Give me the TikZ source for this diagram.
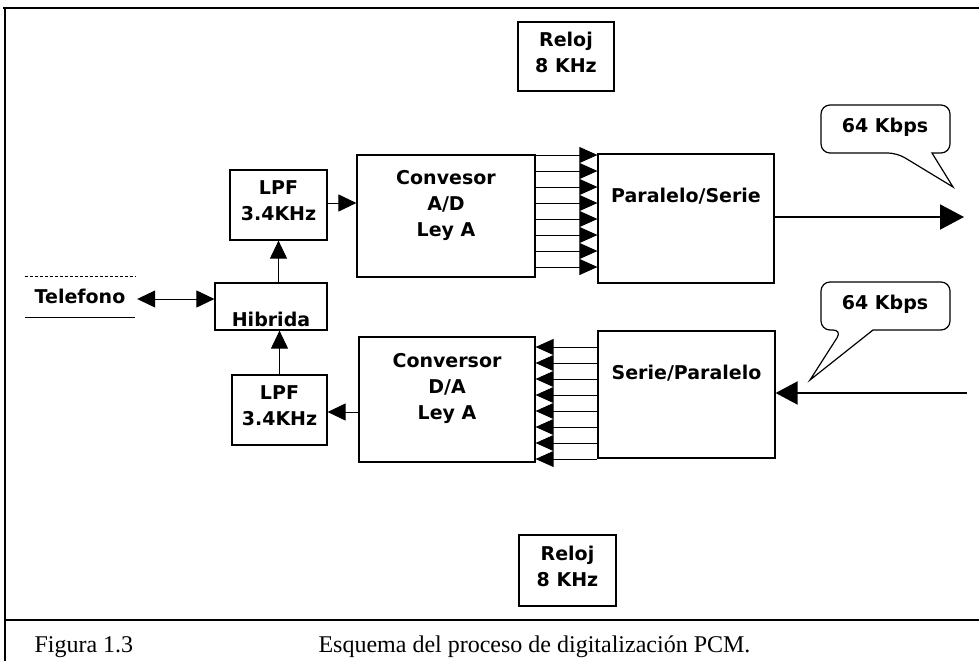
\documentclass[tikz,border=0pt]{standalone}
\usepackage{fontspec}
\setmainfont{Liberation Serif}
\setsansfont{DejaVu Sans}
\usepackage{tikz}
\usetikzlibrary{arrows.meta,positioning}

\begin{document}
\begin{tikzpicture}[
  x=1pt, y=-1pt,
  box/.style={draw,line width=1.2pt,inner sep=0pt},
  txt/.style={font=\sffamily\bfseries\fontsize{19}{26}\selectfont,align=center},
  sig/.style={-{Triangle[length=18pt,width=17pt]},line width=1pt},
  bus/.style={-{Triangle[length=18pt,width=16pt]},line width=0.8pt},
  link/.style={-{Triangle[length=24pt,width=25pt]},line width=2pt},
  captxt/.style={font=\fontsize{24}{28}\selectfont,anchor=base west}
]
\useasboundingbox (0,0) rectangle (979,661);

% Frame
\draw[line width=2pt] (3,8) -- (979,8);
\draw[line width=2pt] (5,8) -- (5,661);
\draw[line width=2pt] (5,620) -- (979,620);

% Clocks
\node[box, minimum width=96pt, minimum height=69pt] (reloj1) at (566,56.5) {};
\node[txt, yshift=4pt] (reloj1t) at (reloj1) {Reloj\\8 KHz};
\node[box, minimum width=97pt, minimum height=71pt] (reloj2) at (567.5,570.5) {};
\node[txt, yshift=4pt] (reloj2t) at (reloj2) {Reloj\\8 KHz};

% Phone side
\node[txt, minimum width=110pt, minimum height=41pt] (tel) at (80,296.5) {Telefono};
\draw[line width=0.6pt, densely dashed] (tel.north west) -- (tel.north east);
\draw[line width=1pt] (tel.south west) -- (tel.south east);
\node[box, minimum width=112pt, minimum height=47pt] (hib) at (271,306.5) {};
\node[txt, yshift=-13pt] (hibt) at (hib) {Hibrida};
\node[box, minimum width=97pt, minimum height=70pt] (lpf1) at (278.5,205) {};
\node[txt, yshift=4pt] (lpf1t) at (lpf1) {LPF\\3.4KHz};
\node[box, minimum width=95pt, minimum height=70pt] (lpf2) at (279.5,410) {};
\node[txt, yshift=4.5pt] (lpf2t) at (lpf2) {LPF\\3.4KHz};

% Converters
\node[box, minimum width=178pt, minimum height=122pt] (ad) at (446,216) {};
\node[txt, yshift=10.5pt] (adt) at (ad) {Convesor\\A/D\\Ley A};
\node[box, minimum width=176pt, minimum height=125pt] (da) at (447,399.5) {};
\node[txt, yshift=11pt] (dat) at (da) {Conversor\\D/A\\Ley A};
\node[box, minimum width=176pt, minimum height=129pt] (ps) at (686,218.5) {};
\node[txt, yshift=22.5pt] (pst) at (ps) {Paralelo/Serie};
\node[box, minimum width=177pt, minimum height=127pt] (sp) at (686.5,394.5) {};
\node[txt, yshift=21.5pt] (spt) at (sp) {Serie/Paralelo};

% Signal path
\draw[sig, {Triangle[length=18pt,width=17pt]}-{Triangle[length=18pt,width=17pt]}]
  ([xshift=2pt]tel.east |- 0,299) -- (hib.west |- 0,299);
\draw[sig] (lpf1.south |- hib.north) -- (lpf1.south);
\draw[sig] (lpf2.north) -- (lpf2.north |- hib.south);
\draw[sig] (lpf1.east |- 0,203) -- (ad.west |- 0,203);
\draw[sig] (da.west |- 0,412) -- (lpf2.east |- 0,412);

% Parallel buses
\foreach \y in {155,171,...,267}
  \draw[bus] (ad.east |- 0,\y) -- (ps.west |- 0,\y);
\foreach \y in {347,363,...,459}
  \draw[bus] (sp.west |- 0,\y) -- (da.east |- 0,\y);

% Line side
\coordinate (txout) at (964,217);
\coordinate (rxin) at (967,393);
\draw[link] (ps.east |- txout) -- (txout);
\draw[link, -{Triangle[length=22pt,width=23pt]}] (rxin) -- (sp.east |- rxin);

% Callouts
\node[txt] (kb1) at (885,127) {64 Kbps};
\draw[line width=1.2pt] (953,187) -- (932,153) [rounded corners=9pt] -- (950,153) -- (950,105)
  -- (821,105) -- (821,153) -- (897,153) [sharp corners] -- cycle;
\node[txt] (kb2) at (885,304) {64 Kbps};
\draw[line width=1.2pt] (810,380) -- (873,330) [rounded corners=9pt] -- (950,330) -- (950,282)
  -- (821,282) -- (821,330) -- (842,330) [sharp corners] -- cycle;

% Caption
\node[captxt] (fig) at (31,652) {Figura 1.3};
\node[captxt] (esq) at (315,652) {Esquema del proceso de digitalización PCM.};

\end{tikzpicture}
\end{document}
